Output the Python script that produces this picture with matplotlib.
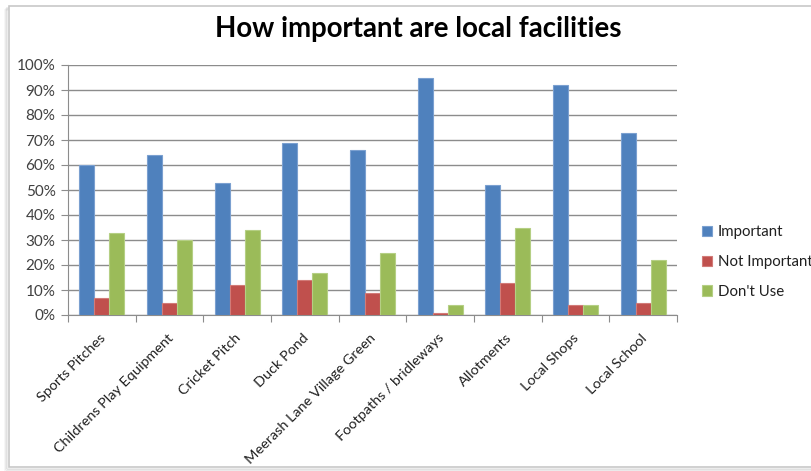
import matplotlib
matplotlib.use("Agg")
import matplotlib.pyplot as plt
from matplotlib.patches import Rectangle, Patch
from matplotlib.ticker import FuncFormatter, MultipleLocator
import numpy as np

categories = ["Sports Pitches", "Childrens Play Equipment", "Cricket Pitch",
              "Duck Pond", "Meerash Lane Village Green", "Footpaths / bridleways",
              "Allotments", "Local Shops", "Local School"]
important = [60, 64, 53, 69, 66, 95, 52, 92, 73]
not_important = [7, 5, 12, 14, 9, 1, 13, 4, 5]
dont_use = [33, 30, 34, 17, 25, 4, 35, 4, 22]
series_names = ["Important", "Not Important", "Don't Use"]

colors = ["#4F81BD", "#C0504D", "#9BBB59"]
edges = ["#7BA0D0", "#D27B78", "#B5CF84"]

W, H = 812, 471
fig = plt.figure(figsize=(W / 100, H / 100), dpi=100)
fig.patch.set_facecolor("white")

# chart frame with soft shadow
for off, a in [(4, 0.10), (3, 0.15), (2, 0.22)]:
    fig.patches.append(Rectangle(((9 - off) / W, (471 - 467 - off) / H),
                                 (830 - 9) / W, (467 - 6) / H,
                                 transform=fig.transFigure, facecolor="none",
                                 edgecolor="#9a9a9a", lw=1.2, alpha=a, zorder=-3))
fig.patches.append(Rectangle((9 / W, (471 - 467) / H), (830 - 9) / W, (467 - 6) / H,
                             transform=fig.transFigure, facecolor="white",
                             edgecolor="#c8c8c8", lw=1.2, zorder=-2))

ax = fig.add_axes([68 / W, (471 - 315) / H, (677 - 68) / W, (315 - 65) / H])
ax.set_facecolor("none")

x = np.arange(len(categories))
bw = 1 / 4.5
for i, (vals, c, e, name) in enumerate(zip([important, not_important, dont_use],
                                           colors, edges, series_names)):
    ax.bar(x + (i - 1) * bw, np.array(vals) / 100, width=bw, color=c,
           edgecolor=e, linewidth=0.8, label=name, zorder=3)

ax.set_xlim(-0.5, len(categories) - 0.5)
ax.set_ylim(0, 1)
ax.yaxis.set_major_locator(MultipleLocator(0.1))
ax.yaxis.set_major_formatter(FuncFormatter(lambda v, p: f"{v * 100:.0f}%"))
ax.grid(axis="y", color="#8c8c8c", lw=1.0, zorder=0)
ax.set_axisbelow(True)

for s in ["top", "right"]:
    ax.spines[s].set_visible(False)
ax.spines["left"].set_color("#8c8c8c")
ax.spines["bottom"].set_color("#8c8c8c")

ax.set_xticks(np.arange(len(categories) + 1) - 0.5, minor=False)
ax.set_xticklabels([])
ax.tick_params(axis="x", length=5, color="#8c8c8c", direction="out")
ax.tick_params(axis="y", length=5, color="#8c8c8c", direction="out",
               labelsize=11, labelcolor="#404040", pad=4)
for lab in ax.get_yticklabels():
    lab.set_fontfamily("Lato")

for xi, name in zip(x, categories):
    ax.annotate(name, xy=(xi, 0), xycoords=("data", "axes fraction"),
                xytext=(-2, -12), textcoords="offset points",
                rotation=45, ha="right", va="top", rotation_mode="anchor",
                fontsize=10.4, family="Lato", color="#202020")

fig.text(418 / W, 1 - 29 / H, "How important are local facilities",
         ha="center", va="center", fontsize=19.9, fontweight="bold",
         family="Lato", color="#000000")

handles = [Patch(facecolor=c, edgecolor=e, lw=0.8) for c, e in zip(colors, edges)]
fig.legend(handles, series_names, loc="center left",
           bbox_to_anchor=(702 / W, 1 - 262 / H), frameon=False,
           handlelength=0.7, handleheight=0.7, handletextpad=0.35,
           labelspacing=1.05, prop={"family": "Lato", "size": 10.8},
           labelcolor="#202020", borderaxespad=0, borderpad=0)

fig.savefig("out.png", dpi=100, facecolor="white")
